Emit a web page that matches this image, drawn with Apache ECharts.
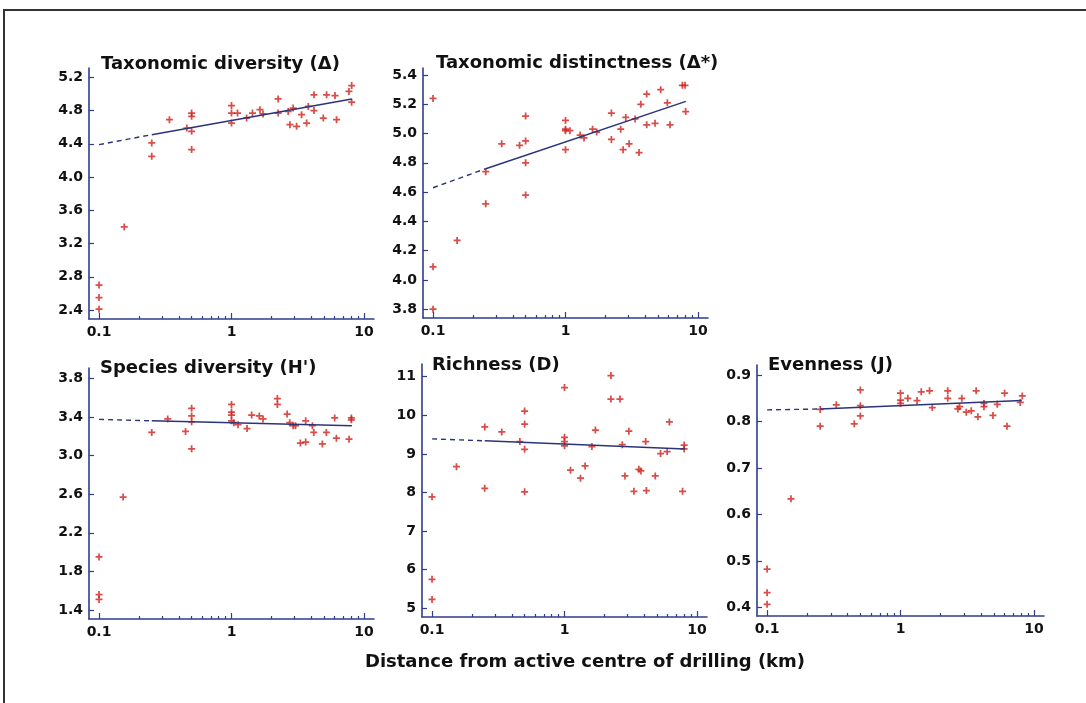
<!DOCTYPE html>
<html>
<head>
<meta charset="utf-8">
<script src="https://cdn.jsdelivr.net/npm/echarts@6/dist/echarts.min.js"></script>
<style>
html, body { margin: 0; padding: 0; background: #fff; }
#chart { width: 1086px; height: 703px; }
</style>
</head>
<body>
<div id="chart"></div>
<script>
// x axis ticks (km, log scale)
var xMajor = [0.1, 1, 10];
var xMinor = [0.2, 0.3, 0.4, 0.5, 0.6, 0.7, 0.8, 0.9, 2, 3, 4, 5, 6, 7, 8, 9];
var trendX = [0.1, 0.25, 8.1];

// Taxonomic diversity
var taxDivX = [0.1, 0.1, 0.1, 0.155, 0.25, 0.25, 0.34, 0.46, 0.5, 0.5, 0.5, 0.5, 1, 1, 1, 1.11, 1.3, 1.44, 1.64, 1.73, 2.25, 2.25, 2.68, 2.92, 2.76, 3.1, 3.38, 3.69, 3.8, 4.19, 4.19, 4.93, 5.22, 6.04, 6.21, 7.7, 8.07, 8.07];
var taxDivY = [2.70, 2.55, 2.41, 3.40, 4.41, 4.25, 4.69, 4.59, 4.77, 4.73, 4.55, 4.33, 4.86, 4.77, 4.65, 4.77, 4.71, 4.77, 4.81, 4.76, 4.94, 4.77, 4.79, 4.83, 4.63, 4.61, 4.75, 4.65, 4.85, 4.99, 4.80, 4.71, 4.99, 4.98, 4.69, 5.03, 5.10, 4.90];
var taxDivTrend = [4.39, 4.51, 4.94];
var taxDivTicks = [2.4, 2.8, 3.2, 3.6, 4.0, 4.4, 4.8, 5.2];

// Taxonomic distinctness
var taxDistX = [0.1, 0.1, 0.1, 0.152, 0.25, 0.25, 0.33, 0.45, 0.5, 0.5, 0.5, 0.5, 1, 1, 1, 1.08, 1, 1.29, 1.38, 1.6, 1.72, 2.22, 2.22, 2.61, 2.72, 2.85, 3.02, 3.35, 3.59, 3.7, 4.1, 4.1, 4.74, 5.23, 5.87, 6.15, 7.62, 7.98, 8.07];
var taxDistY = [5.24, 4.09, 3.80, 4.27, 4.74, 4.52, 4.93, 4.92, 5.12, 4.95, 4.80, 4.58, 5.09, 5.03, 5.02, 5.02, 4.89, 4.99, 4.97, 5.03, 5.01, 5.14, 4.96, 5.03, 4.89, 5.11, 4.93, 5.10, 4.87, 5.20, 5.27, 5.06, 5.07, 5.30, 5.21, 5.06, 5.33, 5.33, 5.15];
var taxDistTrend = [4.63, 4.76, 5.22];
var taxDistTicks = [3.8, 4.0, 4.2, 4.4, 4.6, 4.8, 5.0, 5.2, 5.4];

// Species diversity (H')
var shannonX = [0.1, 0.1, 0.1, 0.152, 0.25, 0.33, 0.45, 0.5, 0.5, 0.5, 0.5, 1, 1, 1, 1, 1.04, 1.12, 1.31, 1.42, 1.62, 1.73, 2.22, 2.22, 2.63, 2.75, 2.92, 3.04, 3.31, 3.63, 3.63, 4.08, 4.18, 4.85, 5.2, 6.01, 6.19, 7.71, 8.03, 8.03];
var shannonY = [1.95, 1.56, 1.51, 2.57, 3.24, 3.38, 3.25, 3.49, 3.41, 3.35, 3.07, 3.53, 3.45, 3.42, 3.36, 3.34, 3.32, 3.28, 3.42, 3.41, 3.38, 3.59, 3.53, 3.43, 3.34, 3.31, 3.31, 3.13, 3.14, 3.36, 3.31, 3.24, 3.12, 3.24, 3.39, 3.18, 3.17, 3.39, 3.37];
var shannonTrend = [3.375, 3.36, 3.31];
var shannonTicks = [1.4, 1.8, 2.2, 2.6, 3.0, 3.4, 3.8];

// Richness (D)
var richX = [0.1, 0.1, 0.1, 0.153, 0.25, 0.25, 0.336, 0.46, 0.5, 0.5, 0.5, 0.5, 1, 1, 1, 1, 1.11, 1.32, 1.43, 1.61, 1.71, 2.24, 2.24, 2.62, 2.73, 2.86, 3.06, 3.34, 3.64, 3.77, 4.1, 4.15, 4.84, 5.31, 5.95, 6.19, 7.78, 8.0, 8.0];
var richY = [7.89, 5.75, 5.23, 8.67, 9.70, 8.11, 9.57, 9.32, 10.11, 9.77, 9.12, 8.02, 10.72, 9.43, 9.32, 9.21, 8.58, 8.37, 8.69, 9.19, 9.62, 11.03, 10.42, 10.42, 9.24, 8.43, 9.59, 8.03, 8.60, 8.56, 9.32, 8.05, 8.43, 9.01, 9.06, 9.83, 8.03, 9.23, 9.13];
var richTrend = [9.39, 9.34, 9.13];
var richTicks = [5, 6, 7, 8, 9, 10, 11];

// Evenness (J)
var evenX = [0.1, 0.1, 0.1, 0.151, 0.25, 0.25, 0.33, 0.45, 0.5, 0.5, 0.5, 1, 1, 1, 1.135, 1.33, 1.43, 1.65, 1.73, 2.26, 2.26, 2.69, 2.77, 2.88, 3.11, 3.39, 3.69, 3.8, 4.22, 4.22, 4.93, 5.31, 6.03, 6.28, 7.9, 8.18];
var evenY = [0.483, 0.432, 0.407, 0.634, 0.826, 0.790, 0.836, 0.795, 0.868, 0.834, 0.812, 0.861, 0.846, 0.839, 0.850, 0.845, 0.864, 0.866, 0.830, 0.866, 0.850, 0.827, 0.832, 0.850, 0.820, 0.823, 0.866, 0.810, 0.839, 0.832, 0.813, 0.837, 0.861, 0.790, 0.841, 0.855];
var evenTrend = [0.825, 0.827, 0.845];
var evenTicks = [0.4, 0.5, 0.6, 0.7, 0.8, 0.9];

var font = 'DejaVu Sans';
var axisColor = '#2f3d8c';
var markColor = '#d0201c';
var lineColor = '#2a3478';
var textColor = '#111111';
var plusSymbol = 'path://M3,0H5V3H8V5H5V8H3V5H0V3H3Z';

var panels = [
    {title: 'Taxonomic diversity (Δ)', x: taxDivX, y: taxDivY, trend: taxDivTrend, ticks: taxDivTicks, dec: 1,
        grid: {left: 89, top: 68, width: 285, height: 251}, min: 2.292, max: 5.312, titlePos: [101, 54]},
    {title: 'Taxonomic distinctness (Δ*)', x: taxDistX, y: taxDistY, trend: taxDistTrend, ticks: taxDistTicks, dec: 1,
        grid: {left: 423, top: 68, width: 285, height: 250}, min: 3.74, max: 5.448, titlePos: [436, 53]},
    {title: "Species diversity (H')", x: shannonX, y: shannonY, trend: shannonTrend, ticks: shannonTicks, dec: 1,
        grid: {left: 89, top: 368, width: 285, height: 251}, min: 1.307, max: 3.907, titlePos: [100, 358]},
    {title: 'Richness (D)', x: richX, y: richY, trend: richTrend, ticks: richTicks, dec: 0,
        grid: {left: 422, top: 364, width: 285, height: 253}, min: 4.775, max: 11.33, titlePos: [432, 355]},
    {title: 'Evenness (J)', x: evenX, y: evenY, trend: evenTrend, ticks: evenTicks, dec: 1,
        grid: {left: 757, top: 365, width: 287, height: 251}, min: 0.382, max: 0.9215, titlePos: [768, 355]}
];

var option = {
    backgroundColor: '#ffffff',
    animation: false,
    title: [],
    grid: [],
    xAxis: [],
    yAxis: [],
    series: [],
    graphic: [
        {type: 'line', shape: {x1: 3, y1: 10, x2: 1086, y2: 10}, style: {stroke: '#333', lineWidth: 2}},
        {type: 'line', shape: {x1: 4, y1: 10, x2: 4, y2: 703}, style: {stroke: '#333', lineWidth: 2}},
        {type: 'text', x: 585, y: 662, style: {
            text: 'Distance from active centre of drilling (km)', align: 'center', verticalAlign: 'middle',
            fill: textColor, font: 'bold 18px "' + font + '"'}}
    ]
};

panels.forEach(function (p, i) {
    option.title.push({
        text: p.title, left: p.titlePos[0], top: p.titlePos[1], padding: 0,
        textStyle: {fontFamily: font, fontWeight: 'bold', fontSize: 18, color: textColor, lineHeight: 20}
    });
    var g = p.grid;
    g.outerBoundsMode = 'none';
    option.grid.push(g);

    // main x axis: line, labels, major ticks
    option.xAxis.push({
        type: 'log', logBase: 10, gridIndex: i, position: 'bottom', min: 0.084, max: 11.9,
        axisLine: {show: true, onZero: false, lineStyle: {color: axisColor, width: 1.6}},
        axisTick: {show: true, inside: true, length: 6, customValues: xMajor, lineStyle: {color: axisColor, width: 1.2}},
        minorTick: {show: false},
        splitLine: {show: false},
        axisLabel: {customValues: xMajor, margin: 6, fontFamily: font, fontWeight: 'bold', fontSize: 14, color: textColor,
            formatter: function (v) { return String(+Number(v).toPrecision(3)); }}
    });
    // minor x ticks
    option.xAxis.push({
        type: 'log', logBase: 10, gridIndex: i, position: 'bottom', min: 0.084, max: 11.9,
        axisLine: {show: false, onZero: false},
        axisTick: {show: true, inside: true, length: 3, customValues: xMinor, lineStyle: {color: axisColor, width: 1.2}},
        splitLine: {show: false},
        axisLabel: {show: false}
    });
    option.yAxis.push({
        type: 'value', gridIndex: i, min: p.min, max: p.max,
        axisLine: {show: true, onZero: false, lineStyle: {color: axisColor, width: 1.6}},
        axisTick: {show: true, inside: true, length: 5, customValues: p.ticks, lineStyle: {color: axisColor, width: 1.2}},
        splitLine: {show: false},
        axisLabel: {customValues: p.ticks, margin: 6, fontFamily: font, fontWeight: 'bold', fontSize: 14, color: textColor,
            formatter: (function (d) { return function (v) { return Number(v).toFixed(d); }; })(p.dec)}
    });

    var pts = p.x.map(function (xv, k) { return [xv, p.y[k]]; });
    option.series.push({
        type: 'scatter', xAxisIndex: i * 2, yAxisIndex: i, data: pts,
        symbol: plusSymbol, symbolSize: 7, itemStyle: {color: markColor}
    });
    option.series.push({
        type: 'line', xAxisIndex: i * 2, yAxisIndex: i, symbol: 'none',
        data: [[trendX[0], p.trend[0]], [trendX[1], p.trend[1]]],
        lineStyle: {color: lineColor, width: 1.4, type: [5, 4]}
    });
    option.series.push({
        type: 'line', xAxisIndex: i * 2, yAxisIndex: i, symbol: 'none',
        data: [[trendX[1], p.trend[1]], [trendX[2], p.trend[2]]],
        lineStyle: {color: lineColor, width: 1.5}
    });
});

var myChart = echarts.init(document.getElementById('chart'));
myChart.setOption(option);
</script>
</body>
</html>
